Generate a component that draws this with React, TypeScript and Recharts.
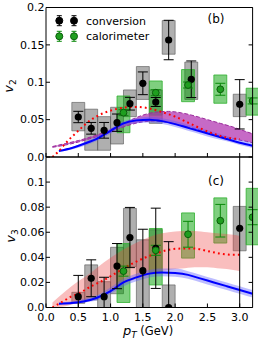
import React from "react";
import { Area, ComposedChart, ErrorBar, Line, ReferenceArea, Scatter, XAxis, YAxis } from "recharts";

const W = 258;
const H = 343;
const PLOT_LEFT = 46;
const PLOT_RIGHT = 252.6;
const BOX_HALF = 0.1;
const X_DOMAIN: [number, number] = [0, 3.2];

const X_TICKS = [0, 0.5, 1, 1.5, 2, 2.5, 3];
const V2_TICKS = [0, 0.05, 0.1, 0.15, 0.2];
const V3_TICKS = [0, 0.02, 0.04, 0.06, 0.08, 0.1];

// ---- panel (b): v2 ----
const v2ConvPt = [0.5, 0.7, 0.9, 1.1, 1.3, 1.5, 1.7, 1.9, 2.25, 3.0];
const v2ConvVal = [0.0535, 0.0384, 0.0357, 0.0459, 0.0713, 0.0986, 0.0736, 0.1565, 0.104, 0.0705];
const v2ConvErr = [0.0076, 0.0078, 0.0105, 0.0116, 0.0085, 0.0152, 0.006, 0.0264, 0.0245, 0.033];
const v2ConvSysLo = [0.035, 0.009, 0.009, 0.0174, 0.054, 0.077, 0.045, 0.1375, 0.077, 0.054];
const v2ConvSysHi = [0.073, 0.064, 0.054, 0.0665, 0.0897, 0.121, 0.0897, 0.1825, 0.127, 0.084];

const v2CalPt = [1.2, 1.7, 2.2, 2.7, 3.2];
const v2CalVal = [0.0593, 0.086, 0.0963, 0.0906, 0.075];
const v2CalErr = [0.004, 0.004, 0.004, 0.008, 0.004];
const v2CalSysLo = [0.0325, 0.056, 0.074, 0.0719, 0.056];
const v2CalSysHi = [0.0816, 0.1017, 0.117, 0.1097, 0.092];

const v2BluePt = [0.2, 0.4, 0.6, 0.8, 1.0, 1.2, 1.4, 1.6, 1.8, 2.0, 2.2, 2.4, 2.6, 2.8, 3.0, 3.2];
const v2Blue = [0.008, 0.012, 0.018, 0.025, 0.035, 0.045, 0.049, 0.05, 0.048, 0.044, 0.039, 0.034, 0.029, 0.024, 0.019, 0.015];
const v2BlueLo = [0.007, 0.010, 0.015, 0.022, 0.031, 0.041, 0.045, 0.046, 0.044, 0.040, 0.035, 0.030, 0.025, 0.021, 0.016, 0.012];
const v2BlueHi = [0.009, 0.013, 0.020, 0.028, 0.038, 0.048, 0.052, 0.054, 0.052, 0.048, 0.043, 0.038, 0.033, 0.028, 0.023, 0.019];

const v2PurplePt = [0.1, 0.3, 0.5, 0.7, 0.9, 1.1, 1.3, 1.5, 1.7, 1.9, 2.1, 2.3, 2.5, 2.7, 2.9, 3.1, 3.2];
const v2PurpleLo = [0.013, 0.016, 0.020, 0.025, 0.030, 0.037, 0.043, 0.047, 0.048, 0.046, 0.042, 0.038, 0.033, 0.028, 0.024, 0.021, 0.019];
const v2PurpleHi = [0.014, 0.018, 0.022, 0.027, 0.033, 0.041, 0.049, 0.056, 0.060, 0.061, 0.059, 0.055, 0.050, 0.045, 0.040, 0.034, 0.031];

const v2RedPt = [0.1, 0.2, 0.3, 0.4, 0.5, 0.6, 0.7, 0.8, 0.9, 1.0, 1.2, 1.4, 1.6, 1.8, 2.0, 2.2, 2.4, 2.6, 2.8, 3.0];
const v2Red = [0.0, 0.008, 0.018, 0.027, 0.035, 0.043, 0.05, 0.055, 0.059, 0.062, 0.066, 0.067, 0.065, 0.06, 0.054, 0.046, 0.038, 0.031, 0.026, 0.024];

// ---- panel (c): v3 ----
const v3ConvPt = [0.5, 0.7, 0.9, 1.1, 1.3, 1.5, 1.7, 1.9, 3.0];
const v3ConvVal = [0.0086, 0.0233, 0.0086, 0.033, 0.0558, 0.0294, 0.0472, 0.0, 0.0632];
const v3ConvErr = [0.017, 0.0147, 0.0155, 0.018, 0.024, 0.033, 0.032, 0.0525, 0.07];
const v3ConvSysLo = [0.0033, 0.006, -0.002, 0.011, 0.0326, -0.005, 0.028, -0.003, 0.0452];
const v3ConvSysHi = [0.0121, 0.034, 0.0206, 0.048, 0.079, 0.054, 0.062, 0.018, 0.0806];

const v3CalPt = [1.2, 1.7, 2.2, 2.7, 3.2];
const v3CalVal = [0.029, 0.0456, 0.0584, 0.0692, 0.072];
const v3CalErr = [0.004, 0.004, 0.0103, 0.013, 0.006];
const v3CalSysLo = [0.004, 0.018, 0.0394, 0.0514, 0.05];
const v3CalSysHi = [0.051, 0.063, 0.0754, 0.0874, 0.095];

const v3BluePt = [0.2, 0.4, 0.6, 0.8, 1.0, 1.2, 1.4, 1.6, 1.8, 2.0, 2.2, 2.4, 2.6, 2.8, 3.0, 3.2];
const v3Blue = [0.003, 0.0035, 0.005, 0.008, 0.013, 0.02, 0.024, 0.027, 0.028, 0.0275, 0.026, 0.023, 0.02, 0.017, 0.014, 0.011];
const v3BlueLo = [0.002, 0.0025, 0.004, 0.006, 0.011, 0.017, 0.021, 0.024, 0.025, 0.0245, 0.023, 0.020, 0.017, 0.014, 0.011, 0.008];
const v3BlueHi = [0.004, 0.005, 0.007, 0.010, 0.016, 0.023, 0.027, 0.030, 0.031, 0.031, 0.029, 0.026, 0.023, 0.020, 0.017, 0.014];

const v3PinkPt = [0.1, 0.3, 0.5, 0.7, 0.9, 1.1, 1.3, 1.5, 1.7, 1.9, 2.1, 2.3, 2.5, 2.7, 2.9, 3.0];
const v3PinkLo = [0.0, 0.001, 0.004, 0.008, 0.012, 0.017, 0.021, 0.025, 0.028, 0.030, 0.031, 0.032, 0.032, 0.031, 0.030, 0.029];
const v3PinkHi = [0.004, 0.013, 0.021, 0.028, 0.036, 0.043, 0.049, 0.054, 0.058, 0.060, 0.061, 0.061, 0.060, 0.059, 0.058, 0.057];

const v3RedPt = [0.1, 0.2, 0.3, 0.4, 0.5, 0.7, 0.9, 1.1, 1.3, 1.5, 1.7, 1.9, 2.1, 2.3, 2.5, 2.7, 2.9, 3.0];
const v3Red = [0.0, 0.003, 0.006, 0.009, 0.011, 0.017, 0.022, 0.028, 0.034, 0.039, 0.043, 0.046, 0.047, 0.047, 0.045, 0.043, 0.042, 0.042];

const curve = (pt: number[], v: number[]) => pt.map((x, i) => ({ x, y: v[i] }));
const band = (pt: number[], lo: number[], hi: number[]) => pt.map((x, i) => ({ x, band: [lo[i], hi[i]] }));
const pts = (pt: number[], v: number[], e: number[]) => pt.map((x, i) => ({ x, y: v[i], err: e[i] }));

const fmtY = (v: number) => (v === 0 ? "0.0" : String(v));

function BlackDot(p: any) {
  return <circle cx={p.cx} cy={p.cy} r={3.6} fill="#000" />;
}
function GreenDot(p: any) {
  return <circle cx={p.cx} cy={p.cy} r={3.4} fill="#1f9e1f" stroke="#0b5e0b" strokeWidth={1} />;
}

type Meas = { pt: number[]; v: number[]; e: number[]; lo: number[]; hi: number[] };

type PanelProps = {
  top: number;
  height: number;
  plotTop: number;
  plotBottom: number;
  yMax: number;
  yTicks: number[];
  xLabels: boolean;
  conv: Meas;
  cal: Meas;
  children: React.ReactNode;
};

function Panel({ top, height, plotTop, plotBottom, yMax, yTicks, xLabels, conv, cal, children }: PanelProps) {
  const plotH = plotBottom - plotTop;
  return (
    <div style={{ position: "absolute", left: 0, top, width: W, height }}>
      {/* data layer, clipped to the frame (open on the right like the original) */}
      <div style={{ position: "absolute", left: PLOT_LEFT, top: plotTop, width: W - PLOT_LEFT, height: plotH, overflow: "hidden" }}>
        <div style={{ position: "absolute", left: -PLOT_LEFT, top: -plotTop }}>
          <ComposedChart width={W} height={height}
            margin={{ top: plotTop, right: W - PLOT_RIGHT, bottom: height - plotBottom, left: PLOT_LEFT }}>
            <XAxis hide type="number" dataKey="x" domain={X_DOMAIN} allowDataOverflow />
            <YAxis hide type="number" domain={[0, yMax]} allowDataOverflow />

            {conv.pt.map((x, i) => (
              <ReferenceArea key={"c" + i} x1={x - BOX_HALF} x2={x + BOX_HALF} y1={conv.lo[i]} y2={conv.hi[i]}
                fill="#7a7a7a" fillOpacity={0.6} stroke="#555" strokeOpacity={0.6} ifOverflow="visible" />
            ))}
            {cal.pt.map((x, i) => (
              <ReferenceArea key={"k" + i} x1={x - BOX_HALF} x2={x + BOX_HALF} y1={cal.lo[i]} y2={cal.hi[i]}
                fill="#00a000" fillOpacity={0.5} stroke="#2fb02f" strokeOpacity={0.8} ifOverflow="visible" />
            ))}

            {children}

            <Scatter data={pts(conv.pt, conv.v, conv.e)} dataKey="y" shape={BlackDot} isAnimationActive={false}>
              <ErrorBar dataKey="err" width={5} stroke="#000" strokeWidth={1} direction="y" isAnimationActive={false} />
            </Scatter>
            <Scatter data={pts(cal.pt, cal.v, cal.e)} dataKey="y" shape={GreenDot} isAnimationActive={false}>
              <ErrorBar dataKey="err" width={5} stroke="#0a8a0a" strokeWidth={1} direction="y" isAnimationActive={false} />
            </Scatter>
          </ComposedChart>
        </div>
      </div>

      {/* axes layer: frame, inward ticks, tick labels */}
      <div style={{ position: "absolute", left: 0, top: 0 }}>
        <ComposedChart width={W} height={height}
          margin={{ top: plotTop - 1, right: W - PLOT_RIGHT - 1, bottom: height - plotBottom - 1, left: 0 }}>
          <XAxis
            type="number"
            dataKey="x"
            domain={X_DOMAIN}
            ticks={X_TICKS}
            interval={0}
            allowDataOverflow
            height={1}
            axisLine={{ stroke: "#000", strokeWidth: 1 }}
            tickLine={false}
            tick={(p: any) => (
              <g>
                <line x1={p.x} x2={p.x} y1={plotBottom} y2={plotBottom - 4} stroke="#000" />
                {xLabels && (
                  <text x={p.x} y={plotBottom + 13} textAnchor="middle" fontSize={11} fill="#000">
                    {Number(p.payload.value).toFixed(1)}
                  </text>
                )}
              </g>
            )}
          />
          <XAxis xAxisId="t" orientation="top" type="number" dataKey="x" domain={X_DOMAIN} allowDataOverflow
            height={1} axisLine={{ stroke: "#000" }} tick={false} tickLine={false} />
          <YAxis
            type="number"
            domain={[0, yMax]}
            ticks={yTicks}
            interval={0}
            allowDataOverflow
            width={PLOT_LEFT}
            axisLine={{ stroke: "#000", strokeWidth: 1 }}
            tickLine={false}
            tick={(p: any) => (
              <g>
                <line x1={PLOT_LEFT} x2={PLOT_LEFT + 4} y1={p.y} y2={p.y} stroke="#000" />
                <text x={PLOT_LEFT - 1.5} y={p.y} dy="0.34em" textAnchor="end" fontSize={11} fill="#000">
                  {fmtY(p.payload.value)}
                </text>
              </g>
            )}
          />
          <YAxis
            yAxisId="r"
            orientation="right"
            type="number"
            domain={[0, yMax]}
            ticks={yTicks}
            interval={0}
            allowDataOverflow
            width={1}
            axisLine={{ stroke: "#000", strokeWidth: 1 }}
            tickLine={false}
            tick={(p: any) => <line x1={PLOT_RIGHT - 4} x2={PLOT_RIGHT} y1={p.y} y2={p.y} stroke="#000" />}
          />
        </ComposedChart>
      </div>
    </div>
  );
}

function LegendMark({ x, y, fill, stroke, bar }: { x: number; y: number; fill: string; stroke: string; bar: string }) {
  return (
    <g>
      <line x1={x} x2={x} y1={y - 5} y2={y + 5} stroke={bar} />
      <line x1={x - 2.5} x2={x + 2.5} y1={y - 5} y2={y - 5} stroke={bar} />
      <line x1={x - 2.5} x2={x + 2.5} y1={y + 5} y2={y + 5} stroke={bar} />
      <circle cx={x} cy={y} r={3.5} fill={fill} stroke={stroke} />
    </g>
  );
}

export default function App() {
  return (
    <div style={{ position: "absolute", left: 0, top: 0, width: W, height: H, background: "#fff", fontFamily: "'DejaVu Sans', sans-serif" }}>
      <Panel
        top={0} height={175} plotTop={7.5} plotBottom={157} yMax={0.2} yTicks={V2_TICKS} xLabels={false}
        conv={{ pt: v2ConvPt, v: v2ConvVal, e: v2ConvErr, lo: v2ConvSysLo, hi: v2ConvSysHi }}
        cal={{ pt: v2CalPt, v: v2CalVal, e: v2CalErr, lo: v2CalSysLo, hi: v2CalSysHi }}
      >
        <Area data={band(v2PurplePt, v2PurpleLo, v2PurpleHi)} dataKey="band" type="monotone" fill="#b030b0" fillOpacity={0.72}
          stroke="#9a2a9a" strokeWidth={1} strokeDasharray="4 2" dot={false} activeDot={false} isAnimationActive={false} />
        <Area data={band(v2BluePt, v2BlueLo, v2BlueHi)} dataKey="band" type="monotone" fill="#5a5aff" fillOpacity={0.4}
          stroke="none" dot={false} activeDot={false} isAnimationActive={false} />
        <Line data={curve(v2BluePt, v2Blue)} dataKey="y" type="monotone" stroke="#0000ff" strokeWidth={2} dot={false} activeDot={false} isAnimationActive={false} />
        <Line data={curve(v2RedPt, v2Red)} dataKey="y" type="monotone" stroke="#ff0000" strokeWidth={2} strokeDasharray="1.8 3.2" dot={false} activeDot={false} isAnimationActive={false} />
      </Panel>
      <Panel
        top={140} height={203} plotTop={17} plotBottom={167.5} yMax={0.12} yTicks={V3_TICKS} xLabels={true}
        conv={{ pt: v3ConvPt, v: v3ConvVal, e: v3ConvErr, lo: v3ConvSysLo, hi: v3ConvSysHi }}
        cal={{ pt: v3CalPt, v: v3CalVal, e: v3CalErr, lo: v3CalSysLo, hi: v3CalSysHi }}
      >
        <Area data={band(v3PinkPt, v3PinkLo, v3PinkHi)} dataKey="band" type="monotone" fill="#ee4444" fillOpacity={0.35}
          stroke="none" dot={false} activeDot={false} isAnimationActive={false} />
        <Area data={band(v3BluePt, v3BlueLo, v3BlueHi)} dataKey="band" type="monotone" fill="#5a5aff" fillOpacity={0.4}
          stroke="none" dot={false} activeDot={false} isAnimationActive={false} />
        <Line data={curve(v3BluePt, v3Blue)} dataKey="y" type="monotone" stroke="#0000ff" strokeWidth={2} dot={false} activeDot={false} isAnimationActive={false} />
        <Line data={curve(v3RedPt, v3Red)} dataKey="y" type="monotone" stroke="#ff0000" strokeWidth={2} strokeDasharray="1.8 3.2" dot={false} activeDot={false} isAnimationActive={false} />
      </Panel>

      <svg width={W} height={H} style={{ position: "absolute", left: 0, top: 0, pointerEvents: "none" }}>
        <LegendMark x={59.3} y={20.7} fill="#000" stroke="#000" bar="#000" />
        <LegendMark x={74} y={20.7} fill="#000" stroke="#000" bar="#000" />
        <text x={86} y={24.7} fontSize={11} fill="#000">conversion</text>
        <LegendMark x={59.3} y={36.3} fill="#1f9e1f" stroke="#0b5e0b" bar="#0a8a0a" />
        <LegendMark x={74} y={36.3} fill="#1f9e1f" stroke="#0b5e0b" bar="#0a8a0a" />
        <text x={86} y={40.3} fontSize={11} fill="#000">calorimeter</text>

        <text x={216} y={22.5} textAnchor="middle" fontSize={12} fill="#000">(b)</text>
        <text x={216} y={184.5} textAnchor="middle" fontSize={12} fill="#000">(c)</text>

        <text transform="rotate(-90 12.5 86)" x={12.5} y={86} textAnchor="middle" fill="#000">
          <tspan fontStyle="italic" fontSize={13}>v</tspan>
          <tspan fontSize={9} dy={3}>2</tspan>
        </text>
        <text transform="rotate(-90 14.5 236)" x={14.5} y={236} textAnchor="middle" fill="#000">
          <tspan fontStyle="italic" fontSize={13}>v</tspan>
          <tspan fontSize={9} dy={3}>3</tspan>
        </text>
        <text x={148} y={335} textAnchor="middle" fill="#000">
          <tspan fontStyle="italic" fontSize={13}>p</tspan>
          <tspan fontStyle="italic" fontSize={9} dy={3}>T</tspan>
          <tspan fontSize={11.5} dy={-3}> (GeV)</tspan>
        </text>
      </svg>
    </div>
  );
}
